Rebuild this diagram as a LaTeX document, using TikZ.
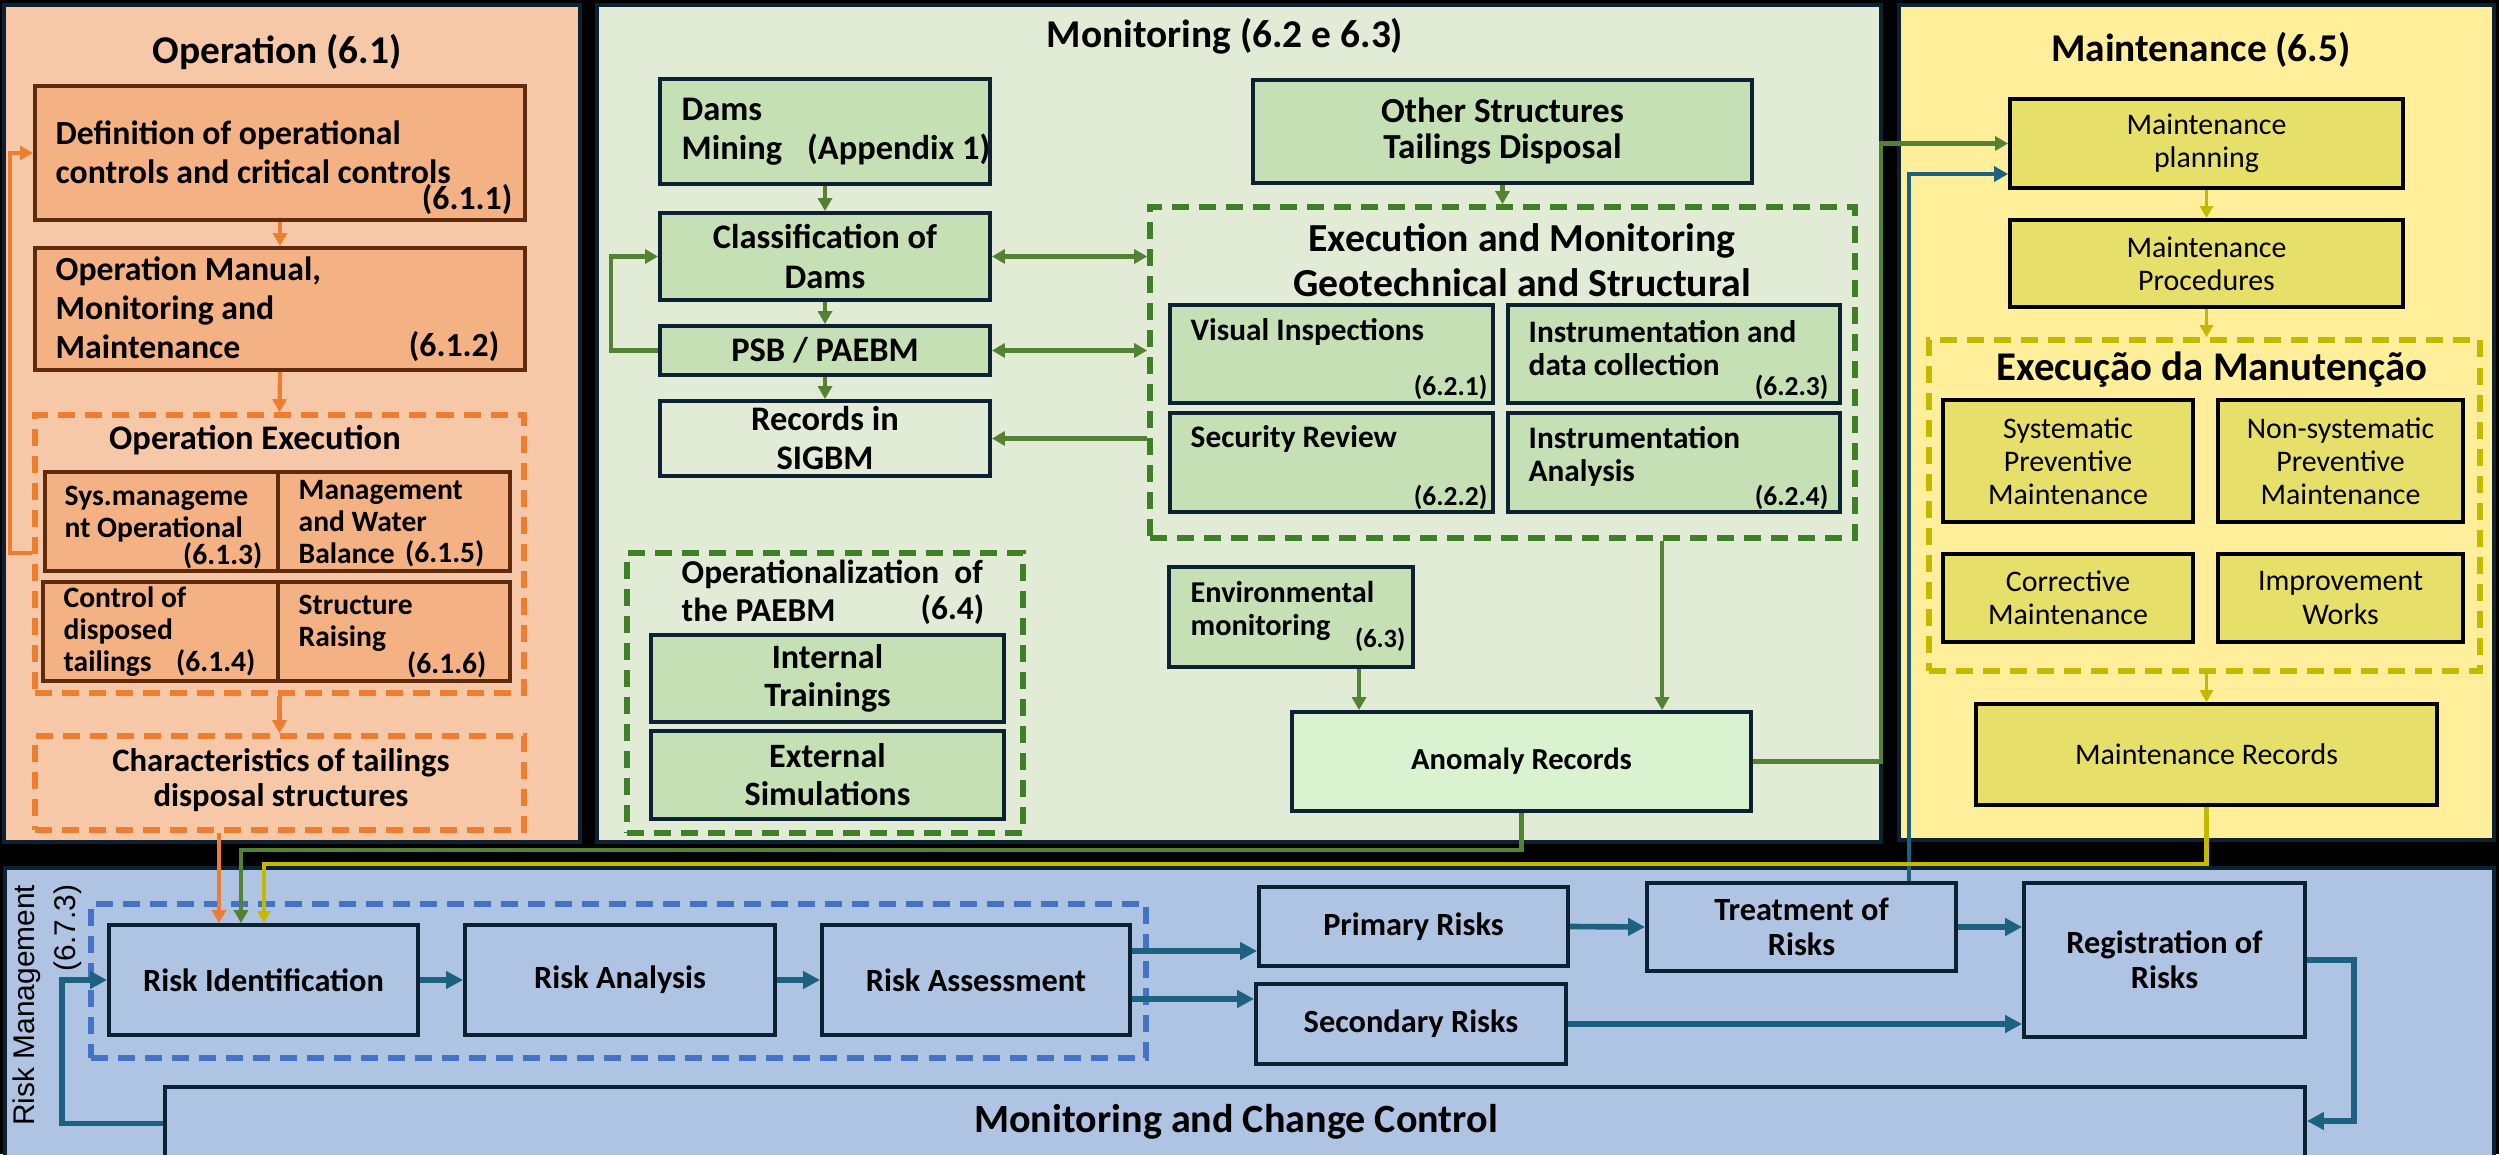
\documentclass[tikz,border=0pt]{standalone}
\usepackage{fontspec}
\setmainfont{Carlito}
\newfontfamily\labelfont{Liberation Sans}
\usetikzlibrary{arrows.meta,fit}
\definecolor{navy}{HTML}{0C2233}
\definecolor{opFill}{HTML}{F6C8A8}
\definecolor{oBox}{HTML}{F4B183}
\definecolor{brownline}{HTML}{5E2C0C}
\definecolor{orangeline}{HTML}{ED7D31}
\definecolor{monFill}{HTML}{E1EBD5}
\definecolor{gBox}{HTML}{C5E0B4}
\definecolor{gLine}{HTML}{548235}
\definecolor{gDash}{HTML}{3F7F25}
\definecolor{anomFill}{HTML}{D9F2D0}
\definecolor{mtFill}{HTML}{FFEF9B}
\definecolor{yBox}{HTML}{E6E06A}
\definecolor{yLine}{HTML}{C5B900}
\definecolor{rkFill}{HTML}{AFC3E3}
\definecolor{bDash}{HTML}{4472C4}
\definecolor{bLine}{HTML}{1C6180}
\newcommand\fsz[2]{\fontsize{#1}{#2}\selectfont}

\begin{document}
\begin{tikzpicture}[x=0.01cm,y=-0.01cm,
  panel/.style={draw=navy,line width=1.4pt,inner sep=0pt},
  boxbase/.style={inner sep=0pt,line width=1.1pt},
  obox/.style={boxbase,draw=brownline,fill=oBox},
  gbox/.style={boxbase,draw=navy,fill=gBox},
  ybox/.style={boxbase,draw=black,fill=yBox},
  rbox/.style={boxbase,draw=navy,fill=rkFill},
  dashbox/.style={inner sep=0pt,line width=1.6pt,dash pattern=on 0.17cm off 0.1cm},
  txt/.style={inner sep=0pt,align=left},
  ctr/.style={inner sep=0pt,align=center},
  ttl/.style={inner sep=0pt,font=\fsz{11.2}{13}\bfseries},
  opf/.style={font=\fsz{9.6}{11.1}\bfseries},
  cellf/.style={font=\fsz{8.4}{9.1}\bfseries},
  monf/.style={font=\fsz{9.8}{11.1}\bfseries},
  subf/.style={font=\fsz{8.9}{9.4}\bfseries},
  numf/.style={inner sep=0pt,font=\fsz{7.8}{9}\bfseries},
  ytxt/.style={ctr,font=\fsz{8.5}{9.4}},
  rtxt/.style={ctr,font=\fsz{9.2}{10}\bfseries},
  oarrow/.style={draw=orangeline,line width=1.2pt,-{Triangle[length=0.13cm,width=0.14cm]}},
  garrow/.style={draw=gLine,line width=1.2pt,-{Triangle[length=0.13cm,width=0.14cm]}},
  gdouble/.style={draw=gLine,line width=1.2pt,{Triangle[length=0.13cm,width=0.14cm]}-{Triangle[length=0.13cm,width=0.14cm]}},
  yarrow/.style={draw=yLine,line width=1pt,-{Triangle[length=0.12cm,width=0.13cm]}},
  barrow/.style={draw=bLine,line width=1.6pt,-{Triangle[length=0.17cm,width=0.17cm]}},
  bthin/.style={draw=bLine,line width=1.2pt,-{Triangle[length=0.14cm,width=0.15cm]}}
]
\useasboundingbox (0,0) rectangle (2499,1154);
\clip (0,0) rectangle (2499,1154);
\fill[black] (0,0) rectangle (2499,1154);

% ---------- panels ----------
\node[panel,fill=opFill,fit={(4,5) (580,842)}] (oppanel) {};
\node[panel,fill=monFill,fit={(597,5) (1881,842)}] (monpanel) {};
\node[panel,fill=mtFill,fit={(1899,5) (2494,840)}] (mtpanel) {};
\node[panel,fill=rkFill,fit={(5,868) (2494,1170)}] (rkpanel) {};

% ---------- Operation ----------
\node[ttl] (optitle) at (277,52) {Operation (6.1)};
\node[obox,fit={(35,86) (525,220)}] (o1) {};
\node[txt,opf,anchor=west] (o1t) at (55,152) {Definition of operational\\controls and critical controls};
\node[inner sep=0pt,opf,anchor=east] (o1n) at (513,200) {(6.1.1)};
\node[obox,fit={(35,248) (525,370)}] (o2) {};
\node[txt,opf,anchor=west] (o2t) at (55,308) {Operation Manual,\\Monitoring and\\Maintenance};
\node[inner sep=0pt,opf,anchor=east] (o2n) at (500,347) {(6.1.2)};

\node[dashbox,draw=orangeline,fit={(35,415) (524,693)}] (opexec) {};
\node[inner sep=0pt,font=\fsz{9.8}{11}\bfseries] (opexect) at (255,440) {Operation Execution};
\node[obox,fit={(45,472) (278,571)}] (c13) {};
\node[obox,fit={(278,472) (510,571)}] (c15) {};
\node[obox,fit={(43,582) (278,681)}] (c14) {};
\node[obox,fit={(278,582) (510,681)}] (c16) {};
\node[txt,cellf,anchor=west] (c13t) at (64,514) {Sys.manageme\\nt Operational};
\node[inner sep=0pt,cellf,anchor=east] (c13n) at (263,556) {(6.1.3)};
\node[txt,cellf,anchor=west] (c15t) at (298,522) {Management\\and Water\\Balance};
\node[inner sep=0pt,cellf,anchor=east] (c15n) at (485,554) {(6.1.5)};
\node[txt,cellf,anchor=west] (c14t) at (63,632) {Control of\\disposed\\tailings};
\node[inner sep=0pt,cellf,anchor=east] (c14n) at (256,663) {(6.1.4)};
\node[txt,cellf,anchor=west] (c16t) at (298,623) {Structure\\Raising};
\node[inner sep=0pt,cellf,anchor=east] (c16n) at (487,665) {(6.1.6)};

\node[dashbox,draw=orangeline,fit={(35,736) (524,830)}] (chars) {};
\node[ctr,font=\fsz{9.3}{10}\bfseries] (charst) at (281,780) {Characteristics of tailings\\disposal structures};

\draw[oarrow] (o1.south) -- (o2.north);
\draw[oarrow] (o2.south) -- (opexec.north);
\draw[oarrow] (opexec.south) -- (chars.north);
\coordinate (oloop) at (10,553);
\draw[oarrow] (opexec.west |- oloop) -- (oloop) |- (o1.west);

% ---------- Monitoring ----------
\node[ttl] (montitle) at (1225,36) {Monitoring (6.2 e 6.3)};
\node[gbox,fit={(660,79) (990,184)}] (dams) {};
\node[txt,monf,anchor=west] (damst) at (681,132) {Dams\\Mining\hspace{0.5em} (Appendix 1)};
\node[gbox,fit={(660,213) (990,300)}] (class) {};
\node[ctr,monf] (classt) at (class.center) {Classification of\\Dams};
\node[gbox,fit={(660,326) (990,375)}] (psb) {};
\node[ctr,monf] (psbt) at (psb.center) {PSB / PAEBM};
\node[boxbase,draw=navy,fill=monFill,fit={(660,401) (990,476)}] (sigbm) {};
\node[ctr,monf] (sigbmt) at (sigbm.center) {Records in\\SIGBM};
\node[gbox,fit={(1253,80) (1752,183)}] (other) {};
\node[ctr,font=\fsz{10}{10.3}\bfseries] (othert) at (other.center) {Other Structures\\Tailings Disposal};

\node[dashbox,draw=gDash,fit={(1150,207) (1855,538)}] (exec) {};
\node[ctr,font=\fsz{11.3}{12.8}\bfseries] (exect) at (1522,260) {Execution and Monitoring\\Geotechnical and Structural};
\node[gbox,fit={(1170,305) (1493,403)}] (v1) {};
\node[gbox,fit={(1508,305) (1840,403)}] (v3) {};
\node[gbox,fit={(1170,413) (1493,512)}] (v2) {};
\node[gbox,fit={(1508,413) (1840,512)}] (v4) {};
\node[txt,subf,anchor=west] (v1t) at (1190,332) {Visual Inspections};
\node[numf,anchor=east] (v1n) at (1488,387) {(6.2.1)};
\node[txt,subf,anchor=west] (v3t) at (1528,348) {Instrumentation and\\data collection};
\node[numf,anchor=east] (v3n) at (1829,387) {(6.2.3)};
\node[txt,subf,anchor=west] (v2t) at (1190,439) {Security Review};
\node[numf,anchor=east] (v2n) at (1488,497) {(6.2.2)};
\node[txt,subf,anchor=west] (v4t) at (1528,456) {Instrumentation\\Analysis};
\node[numf,anchor=east] (v4n) at (1829,497) {(6.2.4)};

\node[gbox,fit={(1169,567) (1413,667)}] (env) {};
\node[txt,font=\fsz{8.6}{9.6}\bfseries,anchor=west] (envt) at (1190,611) {Environmental\\monitoring};
\node[inner sep=0pt,font=\fsz{7.5}{9}\bfseries,anchor=east] (envn) at (1406,640) {(6.3)};
\node[boxbase,draw=navy,fill=anomFill,fit={(1292,712) (1751,811)}] (anomaly) {};
\node[ctr,font=\fsz{8.7}{10}\bfseries] (anomalyt) at (anomaly.center) {Anomaly Records};

\node[dashbox,draw=gDash,fit={(627,553) (1023,833)}] (opz) {};
\node[txt,font=\fsz{9.5}{10.8}\bfseries,anchor=west] (opzt) at (681,591) {Operationalization~ of\\the PAEBM};
\node[inner sep=0pt,font=\fsz{9.5}{10.8}\bfseries,anchor=east] (opzn) at (985,610) {(6.4)};
\node[gbox,fit={(651,635) (1004,722)}] (itr) {};
\node[ctr,font=\fsz{9.7}{10.8}\bfseries] (itrt) at (itr.center) {Internal\\Trainings};
\node[gbox,fit={(651,731) (1004,819)}] (esim) {};
\node[ctr,font=\fsz{9.7}{10.8}\bfseries] (esimt) at (esim.center) {External\\Simulations};

\draw[garrow] (dams.south) -- (class.north);
\draw[garrow] (class.south) -- (psb.north);
\draw[garrow] (psb.south) -- (sigbm.north);
\coordinate (gloop) at (611,0);
\draw[garrow] (psb.west) -- (psb.west -| gloop) |- (class.west);
\draw[gdouble] (class.east) -- (class.east -| exec.west);
\draw[gdouble] (psb.east) -- (psb.east -| exec.west);
\draw[garrow] (sigbm.east -| exec.west) -- (sigbm.east);
\draw[garrow] (other.south) -- (exec.north);
\draw[garrow] ([xshift=0.68cm]env.south) -- ([xshift=0.68cm]env.south |- anomaly.north);
\draw[garrow] ([xshift=1.595cm]exec.south) -- ([xshift=1.595cm]exec.south |- anomaly.north);

% ---------- Maintenance ----------
\node[ttl] (mttitle) at (2201,50) {Maintenance (6.5)};
\node[ybox,fit={(2010,99) (2403,188)}] (mplan) {};
\node[ytxt] (mplant) at (mplan.center) {Maintenance\\planning};
\node[ybox,fit={(2010,220) (2403,307)}] (mproc) {};
\node[ytxt] (mproct) at (mproc.center) {Maintenance\\Procedures};
\node[dashbox,draw=yLine,fit={(1929,340) (2480,671)}] (mexec) {};
\node[inner sep=0pt,font=\fsz{11.6}{13}\bfseries] (mexect) at (2212,370) {Execução da Manutenção};
\node[ybox,fit={(1943,400) (2193,522)}] (s1) {};
\node[ytxt] (s1t) at (s1.center) {Systematic\\Preventive\\Maintenance};
\node[ybox,fit={(2218,400) (2463,522)}] (s2) {};
\node[ytxt] (s2t) at (s2.center) {Non-systematic\\Preventive\\Maintenance};
\node[ybox,fit={(1943,554) (2193,642)}] (s3) {};
\node[ytxt] (s3t) at (s3.center) {Corrective\\Maintenance};
\node[ybox,fit={(2218,554) (2463,642)}] (s4) {};
\node[ytxt] (s4t) at (s4.center) {Improvement\\Works};
\node[ybox,fit={(1976,704) (2437,805)}] (mrec) {};
\node[ytxt] (mrect) at (mrec.center) {Maintenance Records};

\draw[yarrow] (mplan.south) -- (mproc.north);
\draw[yarrow] (mproc.south) -- (mproc.south |- mexec.north);
\draw[yarrow] (mrec.north |- mexec.south) -- (mrec.north);

% ---------- Risk management ----------
\node[rotate=90,anchor=east,align=right,inner sep=0pt,font=\labelfont\fsz{8.5}{11.7}] (rmlabel) at (47,884) {Risk Management\\(6.7.3)};
\node[dashbox,draw=bDash,fit={(91,904) (1146,1058)}] (riskgrp) {};
\node[rbox,fit={(109,925) (418,1035)}] (riskid) {};
\node[rtxt] (riskidt) at (riskid.center) {Risk Identification};
\node[rbox,fit={(465,925) (775,1035)}] (ranal) {};
\node[rtxt] (ranalt) at (ranal.center) {Risk Analysis};
\node[rbox,fit={(822,925) (1130,1035)}] (rassess) {};
\node[rtxt] (rassesst) at (rassess.center) {Risk Assessment};
\node[rbox,fit={(1259,887) (1568,966)}] (prim) {};
\node[rtxt] (primt) at (prim.center) {Primary Risks};
\node[rbox,fit={(1256,984) (1566,1064)}] (sec) {};
\node[rtxt] (sect) at (sec.center) {Secondary Risks};
\node[rbox,fit={(1647,883) (1956,971)}] (treat) {};
\node[rtxt] (treatt) at (treat.center) {Treatment of\\Risks};
\node[rbox,fit={(2024,883) (2305,1037)}] (reg) {};
\node[rtxt] (regt) at (reg.center) {Registration of\\Risks};
\node[rbox,fit={(165,1087) (2305,1160)}] (mcc) {};
\node[ctr,font=\fsz{11.4}{13}\bfseries] (mcct) at (1236,1122) {Monitoring and Change Control};

\draw[barrow] (riskid.east) -- (ranal.west);
\draw[barrow] (ranal.east) -- (rassess.west);
\coordinate (ya) at (0,951);
\coordinate (yb) at (0,999);
\draw[barrow] (rassess.east |- ya) -- (prim.west |- ya);
\draw[barrow] (rassess.east |- yb) -- (sec.west |- yb);
\draw[barrow] (prim.east) -- (treat.west);
\draw[barrow] (treat.east) -- (treat.east -| reg.west);
\draw[barrow] (sec.east) -- (sec.east -| reg.west);
\coordinate (rx) at (2354,1121);
\draw[barrow] (reg.east) -| (rx) -- (rx -| mcc.east);
\coordinate (lx) at (62,0);
\draw[barrow] (mcc.west) -| (lx |- riskid.west) -- (riskid.west);

% ---------- links between areas ----------
\coordinate (gx) at (1881,0);
\draw[garrow] (anomaly.east) -- (anomaly.east -| gx) -- (gx |- mplan.west) -- (mplan.west);
\coordinate (bx) at (1909,174);
\draw[bthin] (bx |- treat.north) -- (bx) -- (bx -| mplan.west);
\coordinate (ox) at (219,0);
\draw[oarrow] (ox |- chars.south) -- (ox |- riskid.north);
\coordinate (gg) at (241,850);
\draw[garrow] (anomaly.south) |- (gg) -- (gg |- riskid.north);
\coordinate (yy) at (264,864);
\draw[yarrow,line width=1.2pt] (mrec.south) |- (yy) -- (yy |- riskid.north);
\end{tikzpicture}
\end{document}
